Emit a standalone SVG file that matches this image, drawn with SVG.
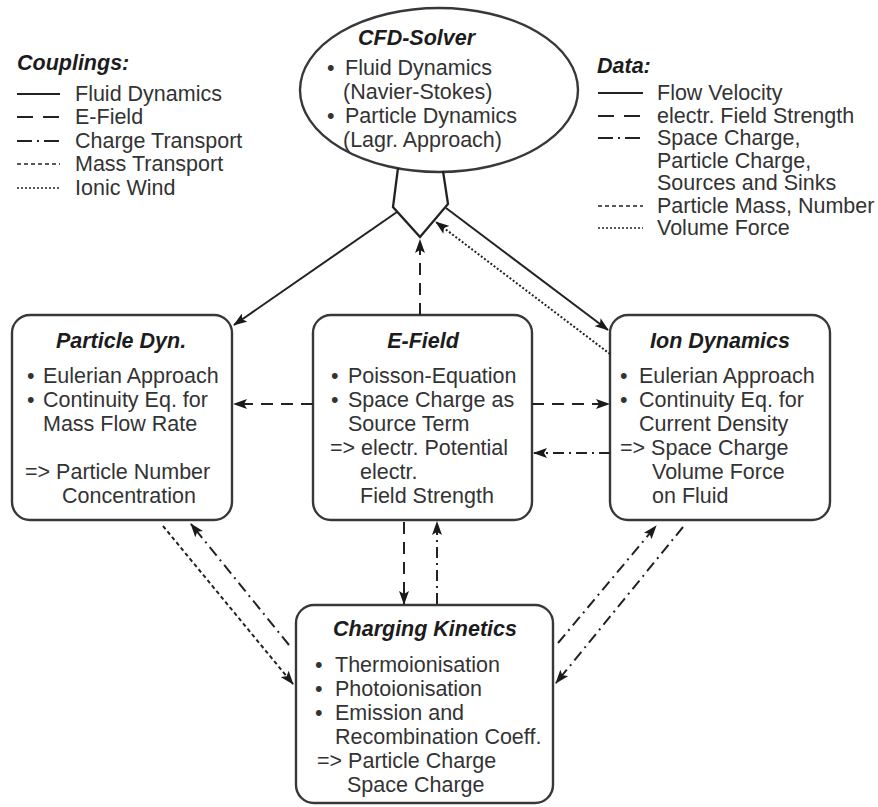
<svg xmlns="http://www.w3.org/2000/svg" width="878" height="807" viewBox="0 0 878 807">
  <defs>
    <style>
      text { font-family: "Liberation Sans", Arial, sans-serif; font-size: 21.5px; fill: #333333; }
      .title { font-weight: bold; font-style: italic; fill: #1c1c1c; text-anchor: middle; }
      .head { font-weight: bold; font-style: italic; fill: #1c1c1c; }
      .box { fill: #ffffff; stroke: #383838; stroke-width: 2.4; }
      .ln { fill: none; stroke: #222222; stroke-width: 2; }
      .dash { stroke-dasharray: 12 8; }
      .dashdot { stroke-dasharray: 11 5 2 5; }
      .mass { stroke-dasharray: 4 3; }
      .wind { stroke-dasharray: 2 2; }
      .lg-dash { stroke-dasharray: 16 10; }
      .lg-dashdot { stroke-dasharray: 15 5 2 5; }
      .thin { stroke-width: 1.7; }
    </style>
    <marker id="arrow" viewBox="0 0 14 10" refX="13" refY="5" markerWidth="14" markerHeight="10" markerUnits="userSpaceOnUse" orient="auto">
      <path d="M0,0 L14,5 L0,10 L3,5 z" fill="#1a1a1a"/>
    </marker>
  </defs>

  <!-- legend: couplings -->
  <g id="legend-couplings">
    <text class="head" x="17" y="70">Couplings:</text>
    <line class="ln" x1="17" y1="94" x2="60" y2="94"/>
    <text x="75" y="101">Fluid Dynamics</text>
    <line class="ln lg-dash" x1="17" y1="117" x2="60" y2="117"/>
    <text x="75" y="124">E-Field</text>
    <line class="ln lg-dashdot" x1="17" y1="141" x2="60" y2="141"/>
    <text x="75" y="148">Charge Transport</text>
    <line class="ln mass thin" x1="17" y1="164" x2="60" y2="164"/>
    <text x="75" y="171">Mass Transport</text>
    <line class="ln wind thin" x1="17" y1="188" x2="60" y2="188"/>
    <text x="75" y="195">Ionic Wind</text>
  </g>

  <!-- legend: data -->
  <g id="legend-data">
    <text class="head" x="597" y="73">Data:</text>
    <line class="ln" x1="598" y1="93" x2="643" y2="93"/>
    <text x="657" y="100">Flow Velocity</text>
    <line class="ln lg-dash" x1="598" y1="116" x2="643" y2="116"/>
    <text x="657" y="123">electr. Field Strength</text>
    <line class="ln lg-dashdot" x1="598" y1="138" x2="643" y2="138"/>
    <text x="657" y="145">Space Charge,</text>
    <text x="657" y="168">Particle Charge,</text>
    <text x="657" y="190">Sources and Sinks</text>
    <line class="ln mass thin" x1="598" y1="206" x2="643" y2="206"/>
    <text x="657" y="213">Particle Mass, Number</text>
    <line class="ln wind thin" x1="598" y1="228" x2="643" y2="228"/>
    <text x="657" y="235">Volume Force</text>
  </g>

  <!-- CFD solver with its coupling port -->
  <g id="cfd-solver">
    <ellipse class="box" cx="439" cy="90" rx="139" ry="82"/>
    <polyline class="ln" points="398,168 393,207 420,237 448,204 443,171" style="stroke-width:2.3"/>
    <text x="358" y="45" class="head">CFD-Solver</text>
    <text x="327" y="75">•</text>
    <text x="345" y="75">Fluid Dynamics</text>
    <text x="343" y="99">(Navier-Stokes)</text>
    <text x="327" y="123">•</text>
    <text x="345" y="123">Particle Dynamics</text>
    <text x="343" y="147">(Lagr. Approach)</text>
  </g>

  <!-- particle dynamics -->
  <g id="particle-dyn">
    <rect class="box" x="12" y="315" width="220" height="205" rx="18"/>
    <text class="title" x="121" y="348">Particle Dyn.</text>
    <text x="27" y="383">•</text>
    <text x="43" y="383">Eulerian Approach</text>
    <text x="27" y="407">•</text>
    <text x="43" y="407">Continuity Eq. for</text>
    <text x="43" y="431">Mass Flow Rate</text>
    <text x="25" y="479">=&gt; Particle Number</text>
    <text x="62" y="503">Concentration</text>
  </g>

  <!-- electric field -->
  <g id="e-field">
    <rect class="box" x="313" y="315" width="219" height="205" rx="18"/>
    <text class="title" x="423" y="348">E-Field</text>
    <text x="331" y="383">•</text>
    <text x="348" y="383">Poisson-Equation</text>
    <text x="331" y="407">•</text>
    <text x="348" y="407">Space Charge as</text>
    <text x="348" y="431">Source Term</text>
    <text x="330" y="455">=&gt; electr. Potential</text>
    <text x="360" y="479">electr.</text>
    <text x="360" y="503">Field Strength</text>
  </g>

  <!-- ion dynamics -->
  <g id="ion-dynamics">
    <rect class="box" x="610" y="315" width="220" height="205" rx="18"/>
    <text class="title" x="720" y="348">Ion Dynamics</text>
    <text x="620" y="383">•</text>
    <text x="639" y="383">Eulerian Approach</text>
    <text x="620" y="407">•</text>
    <text x="639" y="407">Continuity Eq. for</text>
    <text x="639" y="431">Current Density</text>
    <text x="620" y="455">=&gt; Space Charge</text>
    <text x="652" y="479">Volume Force</text>
    <text x="652" y="503">on Fluid</text>
  </g>

  <!-- charging kinetics -->
  <g id="charging-kinetics">
    <rect class="box" x="296" y="605" width="257" height="198" rx="18"/>
    <text class="title" x="425" y="636">Charging Kinetics</text>
    <text x="315" y="672">•</text>
    <text x="335" y="672">Thermoionisation</text>
    <text x="315" y="696">•</text>
    <text x="335" y="696">Photoionisation</text>
    <text x="315" y="720">•</text>
    <text x="335" y="720">Emission and</text>
    <text x="335" y="744">Recombination Coeff.</text>
    <text x="317" y="768">=&gt; Particle Charge</text>
    <text x="347" y="792">Space Charge</text>
  </g>

  <!-- couplings between the solvers -->
  <g id="connectors">
    <line class="ln" x1="397" y1="212" x2="234" y2="325" marker-end="url(#arrow)"/>
    <line class="ln" x1="446" y1="208" x2="608" y2="330" marker-end="url(#arrow)"/>
    <line class="ln wind" x1="610" y1="354" x2="436" y2="222" marker-end="url(#arrow)"/>
    <line class="ln dash" x1="420" y1="315" x2="420" y2="240" marker-end="url(#arrow)"/>
    <line class="ln dash" x1="313" y1="404" x2="234" y2="404" marker-end="url(#arrow)"/>
    <line class="ln dash" x1="532" y1="404" x2="609" y2="404" marker-end="url(#arrow)"/>
    <line class="ln dashdot" x1="610" y1="453" x2="534" y2="453" marker-end="url(#arrow)"/>
    <line class="ln dash" x1="404" y1="522" x2="404" y2="604" marker-end="url(#arrow)"/>
    <line class="ln dashdot" x1="437" y1="604" x2="437" y2="522" marker-end="url(#arrow)"/>
    <line class="ln mass" x1="163" y1="526" x2="293" y2="684" marker-end="url(#arrow)"/>
    <line class="ln dashdot" x1="289" y1="645" x2="191" y2="524" marker-end="url(#arrow)"/>
    <line class="ln dashdot" x1="558" y1="643" x2="656" y2="526" marker-end="url(#arrow)"/>
    <line class="ln dashdot" x1="683" y1="527" x2="556" y2="683" marker-end="url(#arrow)"/>
  </g>
</svg>
